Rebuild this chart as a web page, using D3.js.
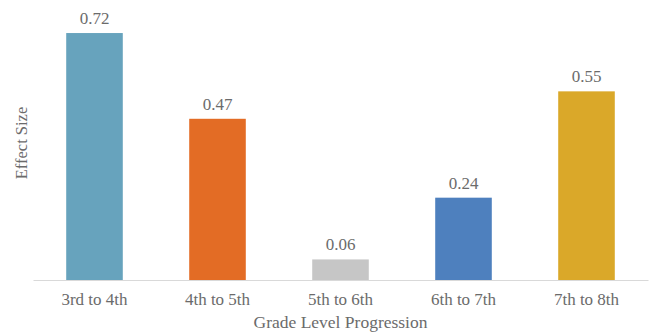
<!DOCTYPE html>
<html>
<head>
<meta charset="utf-8">
<script src="https://cdn.jsdelivr.net/npm/d3@7"></script>
<style>
  body { margin: 0; background: #fff; }
  svg text { font-family: 'Times New Roman', 'Liberation Serif', 'DejaVu Serif', serif !important; fill: #6b6b6b; }
</style>
</head>
<body>
<svg width="655" height="335"></svg>
<script>
const categories = ['3rd to 4th', '4th to 5th', '5th to 6th', '6th to 7th', '7th to 8th'];
const effectSizes = [0.72, 0.47, 0.06, 0.24, 0.55];
const barColors = ['#67a3bd', '#e36c25', '#c6c6c6', '#4e80be', '#daa829'];

const FONT = "'Times New Roman', 'Liberation Serif', 'DejaVu Serif', serif";
const margin = { top: 6, right: 7, bottom: 55, left: 33 };
const width = 655, height = 335;

const svg = d3.select('svg');

const x = d3.scaleBand()
  .domain(categories)
  .range([margin.left, width - margin.right])
  .paddingInner(0.54)
  .paddingOuter(0.27);

const y = d3.scaleLinear()
  .domain([0, 0.8])
  .range([height - margin.bottom, height - margin.bottom - 0.8 * 343]);

// bars
svg.selectAll('.bar')
  .data(effectSizes)
  .join('rect')
    .attr('class', 'bar')
    .attr('x', (d, i) => x(categories[i]))
    .attr('y', d => y(d))
    .attr('width', x.bandwidth())
    .attr('height', d => y(0) - y(d))
    .attr('fill', (d, i) => barColors[i]);

// value labels
svg.selectAll('.value')
  .data(effectSizes)
  .join('text')
    .attr('class', 'value')
    .attr('x', (d, i) => x(categories[i]) + x.bandwidth() / 2)
    .attr('y', d => y(d) - 9)
    .attr('text-anchor', 'middle')
    .style('font-family', FONT)
    .attr('font-size', 17)
    .text(d => d.toFixed(2));

// x axis
const xAxis = svg.append('g')
  .attr('transform', `translate(0,${y(0)})`)
  .call(d3.axisBottom(x).tickSize(0).tickPadding(13));
xAxis.attr('font-family', FONT);
xAxis.select('.domain').attr('stroke', '#d9d9d9').attr('stroke-width', 1.2);
xAxis.selectAll('text')
  .attr('font-size', 17)
  .style('font-family', FONT)
  .attr('fill', '#6b6b6b');

// axis titles
svg.append('text')
  .attr('x', (margin.left + width - margin.right) / 2)
  .attr('y', 328)
  .attr('text-anchor', 'middle')
  .style('font-family', FONT)
  .attr('font-size', 17.5)
  .text('Grade Level Progression');

svg.append('text')
  .attr('transform', 'translate(27,143) rotate(-90)')
  .attr('text-anchor', 'middle')
  .style('font-family', FONT)
  .attr('font-size', 16.5)
  .text('Effect Size');
</script>
</body>
</html>
